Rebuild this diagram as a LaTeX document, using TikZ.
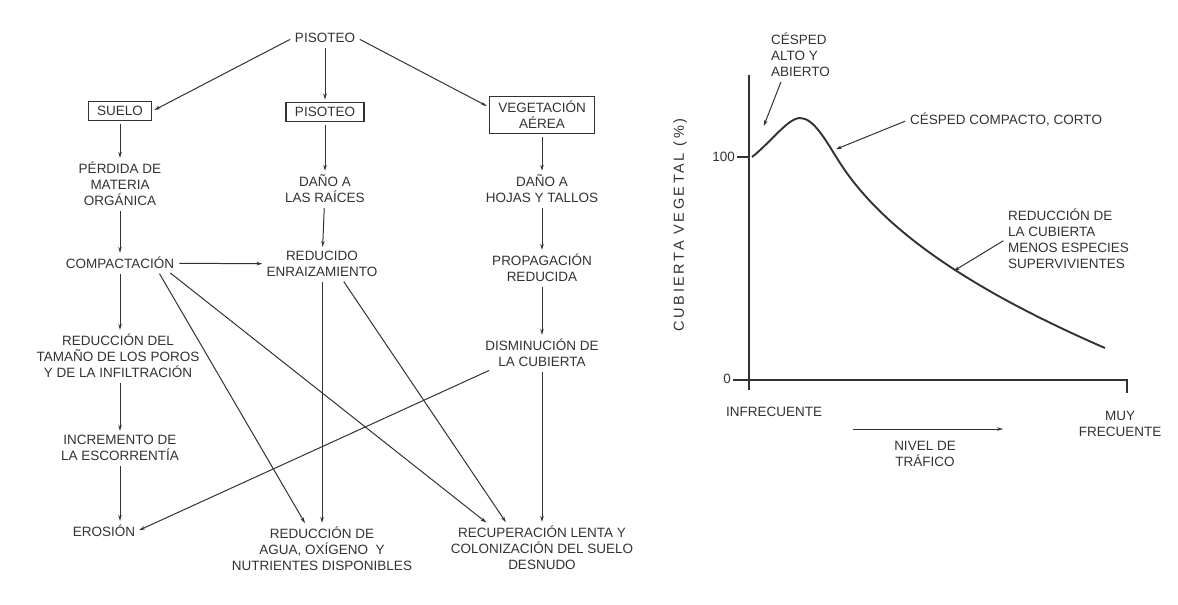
\documentclass[tikz,border=0pt]{standalone}
\usepackage{fontspec}
\setmainfont{Liberation Sans}
\newfontfamily\ancho[LetterSpace=18]{Liberation Sans}
\usetikzlibrary{arrows.meta}
\definecolor{tinta}{RGB}{50,50,50}

\begin{document}
\begin{tikzpicture}[
	x=1pt, y=-1pt,
	>={Stealth[length=6pt,width=3.5pt]},
	txt/.style={align=center, text=tinta, font=\fontsize{13.5}{16}\selectfont, inner sep=2pt},
	caja/.style={txt, draw=tinta, line width=1.2pt, inner xsep=9pt, inner ysep=5pt},
	flecha/.style={->, draw=tinta, line width=1pt, shorten <=3pt, shorten >=2pt},
	eje/.style={draw=tinta, line width=1.2pt},
	curva/.style={draw=tinta, line width=1.9pt}]
\useasboundingbox (0,0) rectangle (1178,605);

\node[txt] (pis) at (325,38) {PISOTEO};
\node[caja] (suelo) at (120,111) {SUELO};
\node[caja] (pisb) at (325,112) {PISOTEO};
\node[caja] (veg) at (542,115) {VEGETACIÓN\\AÉREA};
\node[txt] (perd) at (120,184) {PÉRDIDA DE\\MATERIA\\ORGÁNICA};
\node[txt] (raic) at (325,189) {DAÑO A\\LAS RAÍCES};
\node[txt] (hoja) at (542,189) {DAÑO A\\HOJAS Y TALLOS};
\node[txt] (comp) at (120,263) {COMPACTACIÓN};
\node[txt] (enra) at (322,264) {REDUCIDO\\ENRAIZAMIENTO};
\node[txt] (prop) at (542,268) {PROPAGACIÓN\\REDUCIDA};
\node[txt] (poro) at (118,356) {REDUCCIÓN DEL\\TAMAÑO DE LOS POROS\\Y DE LA INFILTRACIÓN};
\node[txt] (dism) at (542,353) {DISMINUCIÓN DE\\LA CUBIERTA};
\node[txt] (escor) at (120,448) {INCREMENTO DE\\LA ESCORRENTÍA};
\node[txt] (eros) at (104,531) {EROSIÓN};
\node[txt] (agua) at (322,549) {REDUCCIÓN DE\\AGUA, OXÍGENO \ Y\\NUTRIENTES DISPONIBLES};
\node[txt] (recu) at (542,548) {RECUPERACIÓN LENTA Y\\COLONIZACIÓN DEL SUELO\\DESNUDO};

\draw[flecha] (pis.west) -- (suelo.east);
\draw[flecha] (pis) -- (pisb);
\draw[flecha] (pis.east) -- ([yshift=8pt]veg.west);
\draw[flecha] (suelo) -- (perd);
\draw[flecha] (pisb) -- (raic);
\draw[flecha] (veg) -- (hoja);
\draw[flecha] (perd) -- (comp);
\draw[flecha] (raic) -- (enra);
\draw[flecha] (hoja) -- (prop);
\draw[flecha] (comp) -- (enra);
\draw[flecha] (prop) -- (dism);
\draw[flecha] (comp) -- (comp |- poro.north);
\draw[flecha] (comp |- poro.south) -- (comp |- escor.north);
\draw[flecha] (comp |- escor.south) -- (comp |- eros.north);
\draw[flecha] ([xshift=38pt]comp.south) -- ([xshift=-16pt]agua.north);
\draw[flecha] ([xshift=48pt]comp.south) -- ([xshift=-54pt]recu.north);
\draw[flecha] (enra) -- (agua);
\draw[flecha] ([xshift=20pt]enra.south) -- ([xshift=-35pt]recu.north);
\draw[flecha] ([xshift=-50pt]dism.south) -- (eros.east);
\draw[flecha] (dism) -- (recu);

\draw[eje] (749,75) -- (749,390);
\draw[eje] (733,380) -- (1127,380) -- (1127,393);
\draw[eje] (737,157) -- (749,157);
\node[txt, anchor=east] (cien) at (737,157) {100};
\node[txt, anchor=east] (cero) at (733,379) {0};
\node[txt, rotate=90, font=\ancho\fontsize{14.5}{16}\selectfont] (ylab) at (680,225) {CUBIERTA VEGETAL (\%)};
\draw[curva] (752,157) .. controls (770,143) and (788,118) .. (800,118)
	.. controls (814,118) and (826,141) .. (840,163)
	.. controls (880,225) and (960,285) .. (1105,348);

\coordinate (pAlto) at (763,128);
\coordinate (pCorto) at (834,150);
\coordinate (pReduc) at (952,272);
\node[txt, align=left, anchor=north west] (alto) at (769,31) {CÉSPED\\ALTO Y\\ABIERTO};
\node[txt, anchor=west] (corto) at (908,120) {CÉSPED COMPACTO, CORTO};
\node[txt, align=left, anchor=north west] (reduc) at (1006,207) {REDUCCIÓN DE\\LA CUBIERTA\\MENOS ESPECIES\\SUPERVIVIENTES};
\draw[flecha] ([xshift=13pt]alto.south west) -- (pAlto);
\draw[flecha] (corto.west) -- (pCorto);
\draw[flecha] (reduc.west) -- (pReduc);

\node[txt] (infr) at (774,412) {INFRECUENTE};
\node[txt] (muy) at (1120,424) {MUY\\FRECUENTE};
\node[txt] (nivel) at (925,454) {NIVEL DE\\TRÁFICO};
\coordinate (n0) at (850,429);
\coordinate (n1) at (1005,429);
\draw[flecha] (n0) -- (n1);
\end{tikzpicture}
\end{document}
